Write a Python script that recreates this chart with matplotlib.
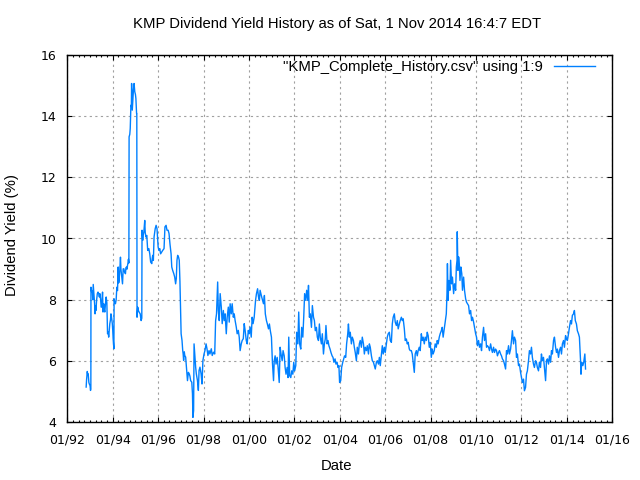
import datetime as dt

import matplotlib
matplotlib.use("Agg")
import matplotlib.pyplot as plt
import matplotlib.dates as mdates

# dividend yield (%), dates as decimal years
years_a = [1992.83, 1992.85, 1992.88, 1992.90, 1992.92, 1992.95, 1992.97, 1993.00, 1993.02, 1993.035,
           1993.04, 1993.07, 1993.10, 1993.12, 1993.14, 1993.17, 1993.20, 1993.22, 1993.24, 1993.26,
           1993.29, 1993.32, 1993.35, 1993.38, 1993.41, 1993.43, 1993.46, 1993.49, 1993.51, 1993.55,
           1993.57, 1993.60, 1993.62, 1993.65, 1993.68, 1993.71, 1993.74, 1993.77, 1993.80, 1993.82,
           1993.85, 1993.87, 1993.90, 1993.92, 1993.95, 1993.98, 1994.00, 1994.02, 1994.05, 1994.06,
           1994.09, 1994.12, 1994.15, 1994.18, 1994.21, 1994.24, 1994.26, 1994.28, 1994.31, 1994.34,
           1994.36, 1994.39, 1994.41, 1994.43, 1994.46, 1994.49, 1994.52, 1994.56, 1994.58, 1994.61,
           1994.63, 1994.65, 1994.67, 1994.69, 1994.71, 1994.72, 1994.75, 1994.77, 1994.80, 1994.82,
           1994.83, 1994.86, 1994.88, 1994.91, 1994.94, 1994.97, 1995.00, 1995.02, 1995.05, 1995.06,
           1995.07, 1995.10, 1995.13, 1995.16, 1995.21, 1995.25, 1995.28, 1995.29, 1995.32, 1995.34,
           1995.37, 1995.41, 1995.43, 1995.46, 1995.50, 1995.54, 1995.59, 1995.63, 1995.67, 1995.72,
           1995.74, 1995.76, 1995.79, 1995.82, 1995.87, 1995.91, 1995.95, 1996.00, 1996.04, 1996.07,
           1996.11, 1996.16, 1996.20, 1996.26, 1996.30, 1996.35, 1996.39, 1996.44, 1996.48, 1996.52,
           1996.57, 1996.60, 1996.64, 1996.69, 1996.73, 1996.77, 1996.80, 1996.83, 1996.86, 1996.90,
           1996.93, 1996.96, 1996.98, 1997.01, 1997.05, 1997.08, 1997.10, 1997.12, 1997.15, 1997.17,
           1997.21, 1997.24, 1997.26, 1997.29, 1997.31, 1997.33, 1997.37, 1997.40, 1997.43, 1997.48,
           1997.51, 1997.53, 1997.56, 1997.58, 1997.61, 1997.65, 1997.68, 1997.73, 1997.77, 1997.80,
           1997.84, 1997.89, 1997.93, 1997.97, 1998.02, 1998.06, 1998.11, 1998.15, 1998.19, 1998.24,
           1998.28, 1998.34, 1998.38, 1998.44, 1998.49, 1998.53, 1998.57, 1998.62, 1998.65, 1998.69,
           1998.73, 1998.78, 1998.82, 1998.87, 1998.91, 1998.95, 1999.00, 1999.04, 1999.09, 1999.13,
           1999.17, 1999.22, 1999.26, 1999.31, 1999.35, 1999.39, 1999.44, 1999.48, 1999.53, 1999.57,
           1999.61, 1999.66, 1999.70, 1999.75, 1999.79, 1999.83, 1999.88, 1999.92, 1999.97, 2000.01,
           2000.05, 2000.10, 2000.14, 2000.18, 2000.23, 2000.29, 2000.33, 2000.38, 2000.42, 2000.46]
yield_a = [5.15, 5.40, 5.66, 5.55, 5.58, 5.30, 5.25, 5.20, 5.04, 5.10,
           8.41, 8.25, 8.30, 8.00, 8.50, 8.20, 7.87, 7.54, 7.80, 7.65,
           8.00, 8.20, 8.25, 8.20, 8.09, 8.20, 8.05, 7.76, 7.76, 8.25,
           7.60, 7.87, 7.70, 7.60, 7.87, 8.09, 7.90, 6.89, 6.95, 6.78,
           7.05, 7.22, 7.35, 7.54, 7.40, 7.22, 7.00, 6.70, 6.40, 8.03,
           7.90, 7.87, 8.00, 8.41, 8.30, 9.07, 8.55, 8.63, 8.96, 9.39,
           9.00, 8.80, 8.65, 8.52, 9.01, 9.01, 8.90, 8.85, 9.05, 9.07,
           9.00, 9.12, 9.20, 9.32, 9.20, 13.32, 13.40, 13.59, 14.35, 14.30,
           15.06, 14.19, 14.46, 14.84, 15.06, 14.79, 14.70, 14.57, 14.08, 14.08,
           7.43, 7.76, 7.65, 7.60, 7.54, 7.32, 7.40, 10.27, 9.94, 10.10,
           10.21, 10.59, 10.20, 10.05, 10.10, 9.61, 9.67, 9.50, 9.23, 9.18,
           9.35, 9.45, 9.29, 10.05, 10.32, 10.43, 10.32, 9.72, 9.61, 9.67,
           9.50, 9.56, 9.61, 9.67, 10.38, 10.43, 10.27, 10.27, 10.16, 9.83,
           9.50, 9.07, 8.96, 8.85, 8.74, 8.52, 8.70, 9.29, 9.45, 9.39,
           9.29, 8.60, 7.98, 6.89, 6.67, 6.35, 6.23, 6.02, 6.30, 6.18,
           6.13, 5.85, 5.69, 5.36, 5.50, 5.63, 5.58, 5.50, 5.36, 5.31,
           4.93, 4.16, 4.38, 6.56, 6.23, 5.80, 5.58, 5.36, 5.04, 5.69,
           5.80, 5.58, 5.25, 6.02, 6.23, 6.34, 6.56, 6.40, 6.18, 6.34,
           6.23, 6.40, 6.18, 6.29, 6.23, 7.32, 7.54, 8.58, 7.65, 7.32,
           8.20, 7.76, 7.22, 7.65, 7.32, 7.54, 6.89, 7.43, 7.76, 7.27,
           7.87, 7.54, 7.87, 7.43, 7.54, 7.32, 7.11, 6.89, 7.00, 6.78,
           6.34, 6.56, 6.67, 6.73, 7.22, 7.00, 6.67, 6.56, 7.00, 6.89,
           7.11, 6.78, 7.43, 7.22, 7.43, 7.98, 8.20, 8.36, 8.09, 7.98]

years_b = [2000.49, 2000.56, 2000.64, 2000.68, 2000.72, 2000.77, 2000.81, 2000.86, 2000.90, 2000.94,
           2000.99, 2001.03, 2001.08, 2001.11, 2001.15, 2001.19, 2001.24, 2001.28, 2001.33, 2001.37,
           2001.41, 2001.46, 2001.50, 2001.55, 2001.59, 2001.63, 2001.68, 2001.72, 2001.75, 2001.79,
           2001.84, 2001.88, 2001.93, 2001.97, 2002.01, 2002.06, 2002.10, 2002.15, 2002.19, 2002.23,
           2002.28, 2002.32, 2002.37, 2002.41, 2002.45, 2002.50, 2002.54, 2002.59, 2002.62, 2002.66,
           2002.70, 2002.75, 2002.79, 2002.84, 2002.88, 2002.92, 2002.97, 2003.01, 2003.06, 2003.10,
           2003.14, 2003.19, 2003.23, 2003.28, 2003.32, 2003.36, 2003.39, 2003.44, 2003.48, 2003.52,
           2003.57, 2003.61, 2003.66, 2003.70, 2003.74, 2003.79, 2003.83, 2003.88, 2003.92, 2003.96,
           2003.99, 2004.04, 2004.08, 2004.13, 2004.17, 2004.21, 2004.26, 2004.30, 2004.35, 2004.38,
           2004.42, 2004.46, 2004.51, 2004.55, 2004.60, 2004.64, 2004.68, 2004.73, 2004.77, 2004.82,
           2004.86, 2004.90, 2004.95, 2004.99, 2005.04, 2005.08, 2005.12, 2005.17, 2005.21, 2005.26,
           2005.30, 2005.34, 2005.39, 2005.43, 2005.48, 2005.52, 2005.56, 2005.61, 2005.65, 2005.70,
           2005.74, 2005.78, 2005.83, 2005.87, 2005.91, 2005.96, 2006.00, 2006.05, 2006.09, 2006.13,
           2006.18, 2006.22, 2006.27, 2006.31, 2006.35, 2006.40, 2006.44, 2006.49, 2006.53, 2006.57,
           2006.62, 2006.66, 2006.71, 2006.75, 2006.79, 2006.84, 2006.88, 2006.93, 2006.97, 2007.01,
           2007.06, 2007.10, 2007.15, 2007.19, 2007.23, 2007.28, 2007.32, 2007.37, 2007.41, 2007.45,
           2007.50, 2007.54, 2007.59, 2007.63, 2007.67, 2007.72, 2007.76, 2007.81, 2007.85, 2007.89,
           2007.94, 2007.98, 2008.03, 2008.07, 2008.11, 2008.16, 2008.20, 2008.25, 2008.29, 2008.33,
           2008.38, 2008.42, 2008.47, 2008.51, 2008.55, 2008.60, 2008.64, 2008.69, 2008.72, 2008.74,
           2008.77, 2008.80, 2008.85, 2008.88, 2008.92, 2008.96, 2009.01, 2009.05, 2009.10, 2009.13,
           2009.16, 2009.17, 2009.20, 2009.23, 2009.26, 2009.29, 2009.33, 2009.37, 2009.40, 2009.45,
           2009.49, 2009.54, 2009.58, 2009.62, 2009.67, 2009.71, 2009.76, 2009.80, 2009.84, 2009.89,
           2009.93, 2009.98, 2010.02, 2010.06, 2010.11, 2010.15, 2010.20, 2010.24, 2010.28, 2010.33,
           2010.37, 2010.42, 2010.46, 2010.50, 2010.55, 2010.59, 2010.64, 2010.68, 2010.72, 2010.77,
           2010.81, 2010.86, 2010.90, 2010.94, 2010.99, 2011.03, 2011.08, 2011.12, 2011.16, 2011.21,
           2011.25, 2011.30, 2011.34, 2011.38, 2011.43, 2011.47, 2011.52, 2011.56, 2011.60, 2011.65,
           2011.69, 2011.74, 2011.78, 2011.82, 2011.87, 2011.91, 2011.96, 2012.00, 2012.04, 2012.09,
           2012.13, 2012.18, 2012.22, 2012.26, 2012.31, 2012.35, 2012.40, 2012.44, 2012.48, 2012.53,
           2012.57, 2012.62, 2012.66, 2012.70, 2012.75, 2012.79, 2012.84, 2012.88, 2012.92, 2012.97,
           2013.01, 2013.06, 2013.10, 2013.14, 2013.19, 2013.23, 2013.28, 2013.32, 2013.36, 2013.41,
           2013.45, 2013.50, 2013.54, 2013.58, 2013.63, 2013.67, 2013.72, 2013.76, 2013.80, 2013.85,
           2013.89, 2013.94, 2013.98, 2014.02, 2014.07, 2014.11, 2014.16, 2014.20, 2014.24, 2014.29,
           2014.33, 2014.37, 2014.42, 2014.46, 2014.51, 2014.55, 2014.60, 2014.62, 2014.65, 2014.70,
           2014.74, 2014.79, 2014.82]
yield_b = [8.31, 8.09, 7.87, 8.14, 7.54, 7.32, 7.21, 7.05, 7.21, 6.99,
           6.78, 5.96, 5.36, 6.01, 6.17, 5.90, 6.12, 5.79, 5.30, 6.45,
           6.23, 6.01, 6.34, 6.17, 5.79, 5.57, 5.79, 5.46, 6.78, 5.52,
           5.46, 5.68, 5.57, 5.96, 5.68, 5.85, 6.94, 6.56, 7.60, 6.56,
           6.39, 7.10, 6.78, 7.43, 8.20, 7.98, 8.31, 7.98, 8.47, 7.43,
           7.54, 7.10, 7.81, 7.43, 7.32, 6.99, 7.10, 6.78, 6.67, 7.21,
           6.78, 6.56, 6.89, 6.23, 6.56, 6.72, 7.16, 6.56, 6.67, 6.50,
           6.39, 6.28, 6.17, 6.12, 5.96, 6.07, 5.90, 5.96, 5.79, 5.85,
           5.30, 5.36, 5.79, 5.96, 6.07, 6.17, 6.12, 6.56, 6.89, 7.21,
           6.78, 6.94, 6.56, 6.78, 6.67, 6.45, 6.28, 6.01, 6.45, 6.23,
           6.56, 6.67, 6.45, 6.78, 6.56, 6.23, 6.45, 6.34, 6.50, 6.23,
           6.56, 6.45, 6.17, 6.01, 5.96, 5.85, 5.74, 5.96, 6.01, 5.90,
           6.12, 5.85, 6.23, 6.50, 6.23, 6.45, 6.28, 6.56, 6.78, 6.89,
           6.94, 6.67, 6.61, 7.21, 7.43, 7.54, 7.27, 7.16, 7.32, 7.05,
           7.21, 7.32, 7.43, 7.32, 7.38, 7.05, 6.67, 6.72, 6.56, 6.61,
           6.39, 6.34, 6.34, 6.23, 5.96, 5.63, 6.23, 6.34, 6.17, 6.34,
           6.45, 6.34, 6.89, 6.67, 6.78, 6.56, 6.78, 6.67, 6.94, 6.83,
           6.45, 6.61, 6.12, 6.39, 6.23, 6.34, 6.56, 6.45, 6.67, 6.56,
           6.78, 6.89, 6.99, 7.10, 6.78, 7.05, 7.27, 7.54, 8.20, 9.18,
           7.98, 8.63, 8.31, 9.29, 8.52, 8.74, 8.20, 8.52, 8.31, 9.07,
           9.29, 10.22, 8.96, 9.40, 9.18, 8.63, 9.07, 8.85, 8.31, 8.74,
           8.31, 8.03, 7.92, 7.87, 7.81, 7.54, 7.65, 7.32, 7.43, 7.27,
           7.10, 6.89, 6.78, 6.50, 6.67, 6.45, 6.56, 6.34, 6.78, 7.10,
           6.67, 6.89, 6.45, 6.50, 6.45, 6.34, 6.56, 6.39, 6.28, 6.45,
           6.28, 6.39, 6.34, 6.17, 6.28, 6.34, 6.23, 6.17, 6.07, 6.01,
           5.90, 5.74, 6.34, 6.23, 6.50, 6.23, 6.39, 6.67, 6.99, 6.56,
           6.78, 6.67, 6.12, 6.23, 5.85, 5.90, 5.63, 5.46, 5.30, 5.41,
           5.03, 5.14, 5.57, 5.68, 6.01, 6.34, 6.23, 6.45, 6.12, 5.90,
           5.79, 6.01, 5.96, 5.79, 5.68, 5.96, 5.79, 6.23, 6.01, 6.12,
           5.79, 5.36, 6.01, 6.07, 5.90, 6.17, 5.96, 6.34, 6.23, 6.67,
           6.78, 6.45, 6.28, 6.39, 6.12, 6.34, 6.45, 6.23, 6.56, 6.67,
           6.45, 6.83, 6.72, 6.67, 6.89, 7.10, 7.32, 7.21, 7.49, 7.54,
           7.65, 7.32, 7.21, 6.99, 6.89, 6.78, 6.01, 5.57, 5.96, 5.85,
           5.96, 6.23, 5.74]

y_ticks = [4, 6, 8, 10, 12, 14, 16]
title = "KMP Dividend Yield History as of Sat, 1 Nov 2014 16:4:7 EDT"
series_label = '"KMP_Complete_History.csv" using 1:9'


def to_date(y):
    base = dt.datetime(int(y), 1, 1)
    return base + dt.timedelta(days=(y - int(y)) * 365.25)


dates = [to_date(y) for y in years_a + years_b]
yields = yield_a + yield_b

fig = plt.figure(figsize=(6.4, 4.8), dpi=100)
ax = fig.add_axes([67.3 / 640, 1 - 422.3 / 480, (612.3 - 67.3) / 640, (422.3 - 54.7) / 480])

ax.plot(dates, yields, color='#0080ff', lw=1.0, label=series_label)

ax.set_xlim(dt.datetime(1992, 1, 1), dt.datetime(2016, 1, 1))
ax.set_ylim(4, 16)
ax.set_yticks(y_ticks)
ax.xaxis.set_major_locator(mdates.YearLocator(2))
ax.xaxis.set_minor_locator(mdates.MonthLocator(bymonth=[1, 4, 7, 10]))
ax.xaxis.set_major_formatter(mdates.DateFormatter('%m/%y'))

ax.grid(True, which='major', color='#a0a0a0', linestyle=(0, (2, 3)), lw=0.8)
ax.tick_params(which='both', direction='in', top=True, right=True, color='black',
               labelsize=9, pad=8)
ax.tick_params(which='major', length=3.3, width=0.8)
ax.tick_params(which='minor', length=1.7, width=0.8)
for lab in ax.get_xticklabels() + ax.get_yticklabels():
    lab.set_family('DejaVu Sans')
for sp in ax.spines.values():
    sp.set_linewidth(1.0)

fig.text(337.5 / 640, 1 - 24 / 480, title, ha='center', va='center',
         family='Liberation Sans', fontsize=10.7)
fig.text(337 / 640, 1 - 466 / 480, 'Date', ha='center', va='center',
         family='Liberation Sans', fontsize=10.7)
fig.text(12 / 640, 1 - 235 / 480, 'Dividend Yield (%)', ha='center', va='center',
         rotation=90, family='Liberation Sans', fontsize=10.7)

ax.legend(loc='center right', bbox_to_anchor=(595 / 640, 1 - 67 / 480),
          bbox_transform=fig.transFigure, frameon=False, markerfirst=False,
          handlelength=2.75, handletextpad=0.74, borderpad=0, borderaxespad=0,
          prop={'family': 'Liberation Sans', 'size': 10.7})

fig.savefig('out.png', dpi=100)
